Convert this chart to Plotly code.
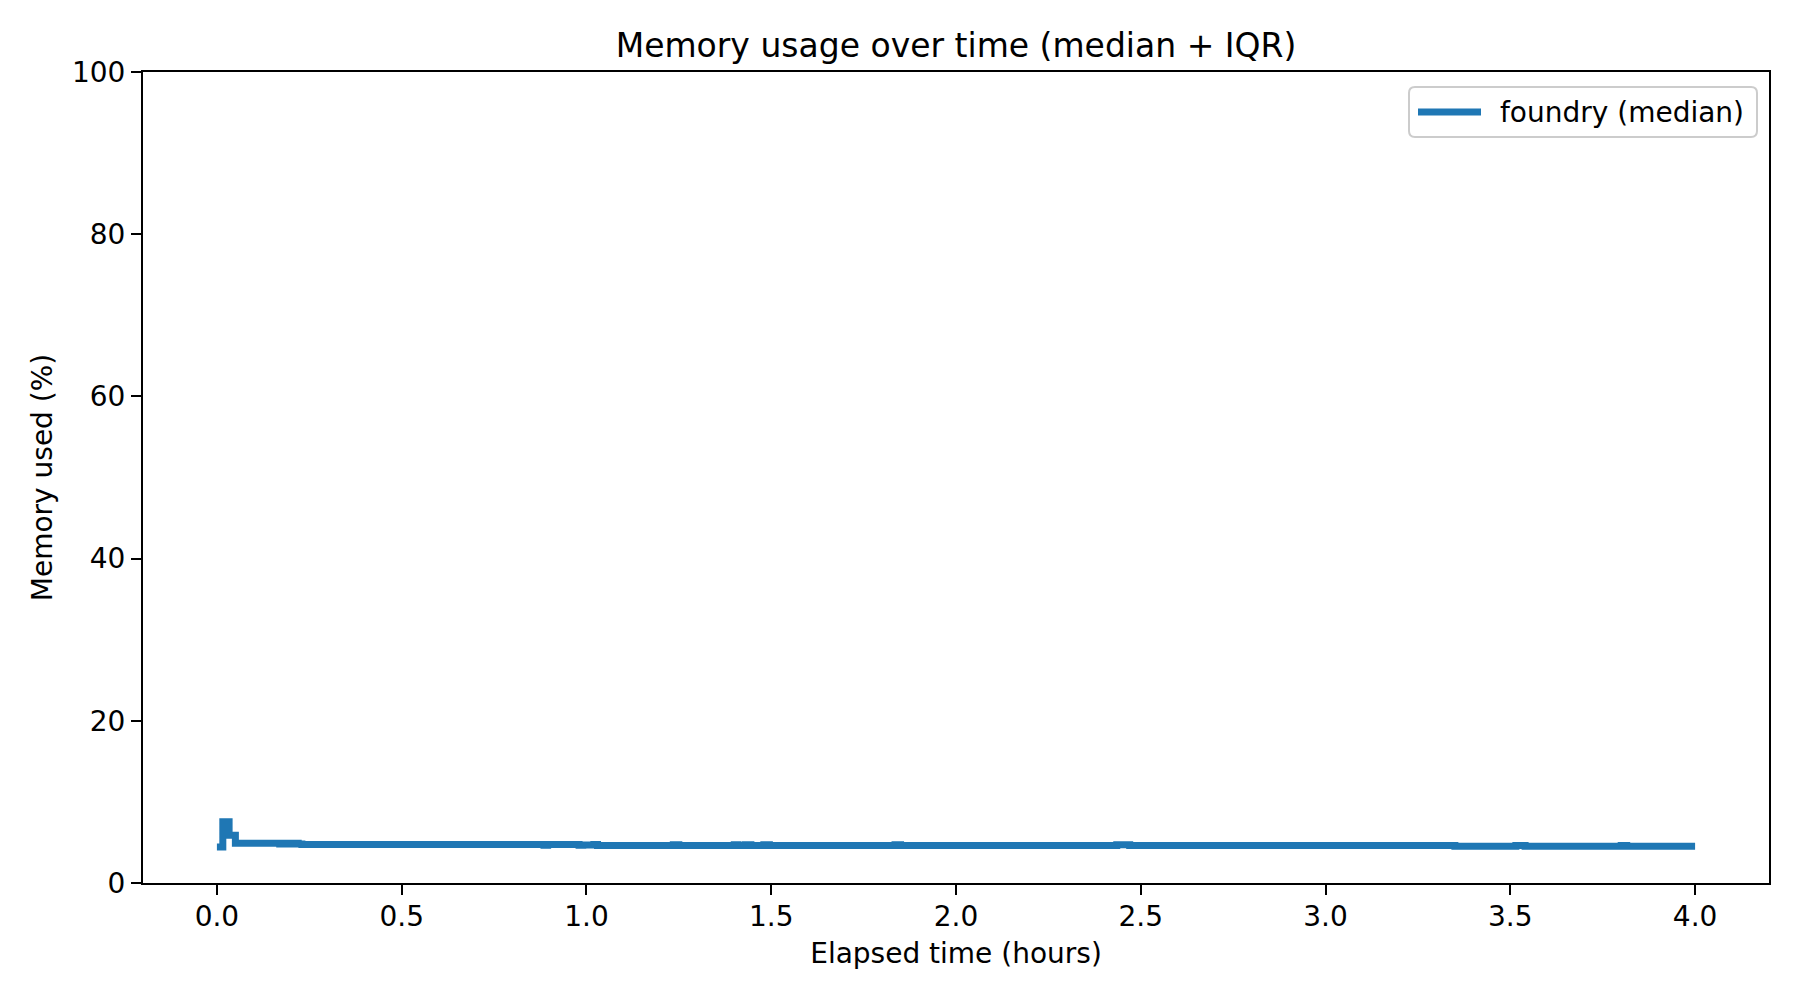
import plotly.graph_objects as go

# Step points of the median memory usage (hours, % used)
time_hours = [0.000, 0.016, 0.033, 0.050, 0.170, 0.180, 0.195, 0.205, 0.220, 0.230,
              0.885, 0.895, 0.980, 0.990, 1.020, 1.030, 1.235, 1.250, 1.400, 1.410,
              1.430, 1.445, 1.480, 1.495, 1.835, 1.850, 2.435, 2.470, 3.350, 3.515,
              3.540, 3.800, 3.815, 4.000]
memory_pct = [4.45, 7.55, 5.90, 4.90, 4.80, 4.90, 4.80, 4.90, 4.80, 4.75,
              4.65, 4.75, 4.65, 4.70, 4.75, 4.62, 4.72, 4.62, 4.72, 4.62,
              4.72, 4.62, 4.72, 4.62, 4.72, 4.62, 4.72, 4.62, 4.52, 4.62,
              4.52, 4.62, 4.52, 4.52]

series_name = "foundry (median)"
x_ticks = [0.0, 0.5, 1.0, 1.5, 2.0, 2.5, 3.0, 3.5, 4.0]
y_ticks = [0, 20, 40, 60, 80, 100]

FONT = "DejaVu Sans"
BLUE = "#1f77b4"
W, H = 1800, 1000
ML, MR, MT, MB = 143, 31, 72, 117
PW, PH = W - ML - MR, H - MT - MB


def px_x(p):
    return (p - ML) / PW


def px_y(p):
    return (H - MB - p) / PH


fig = go.Figure()
fig.add_trace(go.Scatter(
    x=time_hours, y=memory_pct, mode="lines", line_shape="hv",
    line=dict(color=BLUE, width=7),
    name=series_name, showlegend=False,
))

axis_common = dict(
    showline=True, linecolor="black", linewidth=2, mirror=True,
    ticks="outside", ticklen=10, tickwidth=2, tickcolor="black",
    showgrid=False, zeroline=False,
    tickfont=dict(family=FONT, size=28, color="black"),
)

# Legend box (matplotlib style) drawn in paper coordinates
x0, x1 = px_x(1409), px_x(1757)
y1, y0 = px_y(87), px_y(137)
rx, ry = 6 / PW, 6 / PH
legend_path = (
    f"M {x0 + rx},{y1} L {x1 - rx},{y1} Q {x1},{y1} {x1},{y1 - ry} "
    f"L {x1},{y0 + ry} Q {x1},{y0} {x1 - rx},{y0} "
    f"L {x0 + rx},{y0} Q {x0},{y0} {x0},{y0 + ry} "
    f"L {x0},{y1 - ry} Q {x0},{y1} {x0 + rx},{y1} Z"
)
ly = px_y(112)

fig.update_layout(
    width=W, height=H,
    margin=dict(l=ML, r=MR, t=MT, b=MB),
    paper_bgcolor="white", plot_bgcolor="white",
    font=dict(family=FONT, size=28, color="black"),
    title=dict(text="Memory usage over time (median + IQR)",
               font=dict(family=FONT, size=33, color="black"),
               x=0.5, xref="paper", xanchor="center",
               y=1 - 45 / 1000, yref="container", yanchor="middle"),
    xaxis=dict(range=[-0.2, 4.2], tickvals=x_ticks,
               ticktext=[f"{v:.1f}" for v in x_ticks],
               ticklabelstandoff=-3,
               title=dict(text="Elapsed time (hours)",
                          font=dict(family=FONT, size=28), standoff=12),
               **axis_common),
    yaxis=dict(range=[0, 100], tickvals=y_ticks,
               title=dict(text="Memory used (%)",
                          font=dict(family=FONT, size=28), standoff=11),
               **axis_common),
    showlegend=False,
    shapes=[
        dict(type="path", xref="paper", yref="paper", path=legend_path,
             fillcolor="rgba(255,255,255,0.8)",
             line=dict(color="#cccccc", width=2)),
        dict(type="line", xref="paper", yref="paper",
             x0=px_x(1418), x1=px_x(1481), y0=ly, y1=ly,
             line=dict(color=BLUE, width=7)),
    ],
    annotations=[
        dict(text=series_name, xref="paper", yref="paper",
             x=px_x(1498), y=ly, xanchor="left", yanchor="middle",
             showarrow=False,
             font=dict(family=FONT, size=28, color="black")),
    ],
)

fig.write_html("out.html")
